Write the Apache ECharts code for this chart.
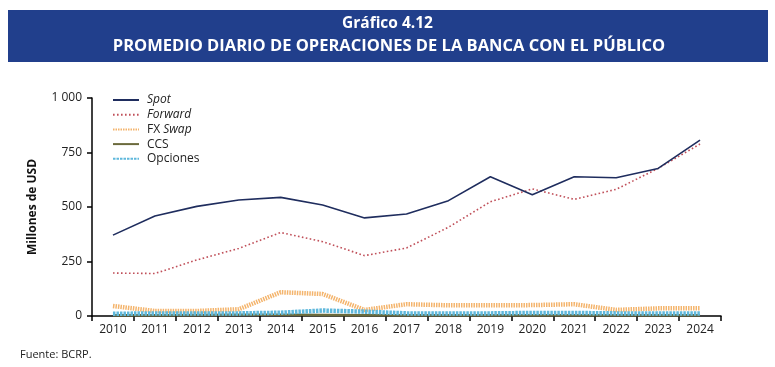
<!DOCTYPE html>
<html>
<head>
<meta charset="utf-8">
<script src="https://cdn.jsdelivr.net/npm/echarts@6/dist/echarts.min.js"></script>
<style>html,body{margin:0;padding:0;background:#fff}#c{width:775px;height:367px}</style>
</head>
<body>
<div id="c"></div>
<script>
const years = ['2010','2011','2012','2013','2014','2015','2016','2017','2018','2019','2020','2021','2022','2023','2024'];
const spot     = [371, 459, 503, 532, 544, 509, 450, 468, 529, 639, 556, 639, 634, 677, 807];
const forward  = [197, 195, 257, 310, 383, 341, 277, 312, 407, 524, 583, 535, 581, 677, 789];
const fxSwap   = [46, 23, 23, 31, 109, 101, 28, 54, 49, 49, 50, 54, 28, 35, 35];
const ccs      = [3, 4, 5, 6, 6, 5, 4, 3, 3, 3, 3, 4, 4, 3, 3];
const opciones = [10, 12, 12, 12, 15, 25, 20, 12, 12, 12, 14, 14, 12, 12, 12];
const yTicks = [0, 250, 500, 750, 1000];

const font = 'Open Sans';
const chart = echarts.init(document.getElementById('c'), null, {renderer: 'canvas'});
const legendNames = {
  'Spot': '{i|Spot}',
  'Forward': '{i|Forward}',
  'FX Swap': 'FX {i|Swap}',
  'CCS': 'CCS',
  'Opciones': 'Opciones'
};
chart.setOption({
  animation: false,
  textStyle: {fontFamily: font},
  graphic: [
    {type: 'rect', shape: {x: 8, y: 10, width: 760, height: 52}, style: {fill: '#213f8c'}},
    {type: 'text', x: 387.5, y: 24, style: {text: 'Gráfico 4.12', fill: '#fff', font: 'bold 15.5px "Open Sans"', textAlign: 'center', textVerticalAlign: 'middle'}},
    {type: 'text', x: 389, y: 46, style: {text: 'PROMEDIO DIARIO DE OPERACIONES DE LA BANCA CON EL PÚBLICO', fill: '#fff', font: 'bold 16.5px "Open Sans"', textAlign: 'center', textVerticalAlign: 'middle'}},
    {type: 'text', x: 20, y: 355, style: {text: 'Fuente: BCRP.', fill: '#222', font: '11px "Open Sans"', textVerticalAlign: 'middle'}}
  ],
  legend: {
    orient: 'vertical', left: 107, top: 89, itemWidth: 26, itemHeight: 12, itemGap: 2.7,
    data: ['Spot','Forward','FX Swap','CCS','Opciones'],
    itemStyle: {opacity: 0},
    formatter: n => legendNames[n],
    textStyle: {fontSize: 12, color: '#222', fontFamily: font, padding: [0, 0, 0, 3], rich: {i: {fontStyle: 'italic', fontSize: 12, fontFamily: font, color: '#222'}}}
  },
  grid: {left: 92, right: 54, top: 98, bottom: 51},
  xAxis: {
    type: 'category', data: years, boundaryGap: true,
    axisLine: {lineStyle: {color: '#000', width: 1.5}},
    axisTick: {show: true, length: 5, lineStyle: {color: '#000', width: 1.5}},
    axisLabel: {color: '#222', fontSize: 12, margin: 8, fontFamily: font}
  },
  yAxis: {
    type: 'value', min: 0, max: 1000, interval: 250,
    name: 'Millones de USD', nameLocation: 'middle', nameGap: 53, nameRotate: 90,
    nameTextStyle: {fontWeight: 'bold', fontSize: 12, color: '#111', fontFamily: font},
    axisLine: {show: true, lineStyle: {color: '#000', width: 1.5}},
    axisTick: {show: true, length: 5, lineStyle: {color: '#000', width: 1.5}},
    splitLine: {show: false},
    axisLabel: {color: '#222', fontSize: 12, margin: 10, fontFamily: font,
      formatter: v => yTicks.includes(v) ? (v >= 1000 ? String(v).replace(/\B(?=(\d{3})+(?!\d))/g, ' ') : String(v)) : ''}
  },
  series: [
    {name: 'CCS', type: 'line', data: ccs, symbol: 'none', z: 2, lineStyle: {color: '#6b6a3c', width: 2.5}, itemStyle: {color: '#6b6a3c'}},
    {name: 'FX Swap', type: 'line', data: fxSwap, symbol: 'none', z: 3, lineStyle: {color: '#f4b46c', width: 4.5, type: [1.5, 1]}, itemStyle: {color: '#f4b46c'}},
    {name: 'Opciones', type: 'line', data: opciones, symbol: 'none', z: 4, lineStyle: {color: '#5fb8dc', width: 4.5, type: [2.5, 1]}, itemStyle: {color: '#5fb8dc'}},
    {name: 'Forward', type: 'line', data: forward, symbol: 'none', z: 5, lineStyle: {color: '#c0505a', width: 1.6, type: [1.6, 2.4]}, itemStyle: {color: '#c0505a'}},
    {name: 'Spot', type: 'line', data: spot, symbol: 'none', z: 6, lineStyle: {color: '#1f2d5e', width: 1.6}, itemStyle: {color: '#1f2d5e'}}
  ]
});
</script>
</body>
</html>
